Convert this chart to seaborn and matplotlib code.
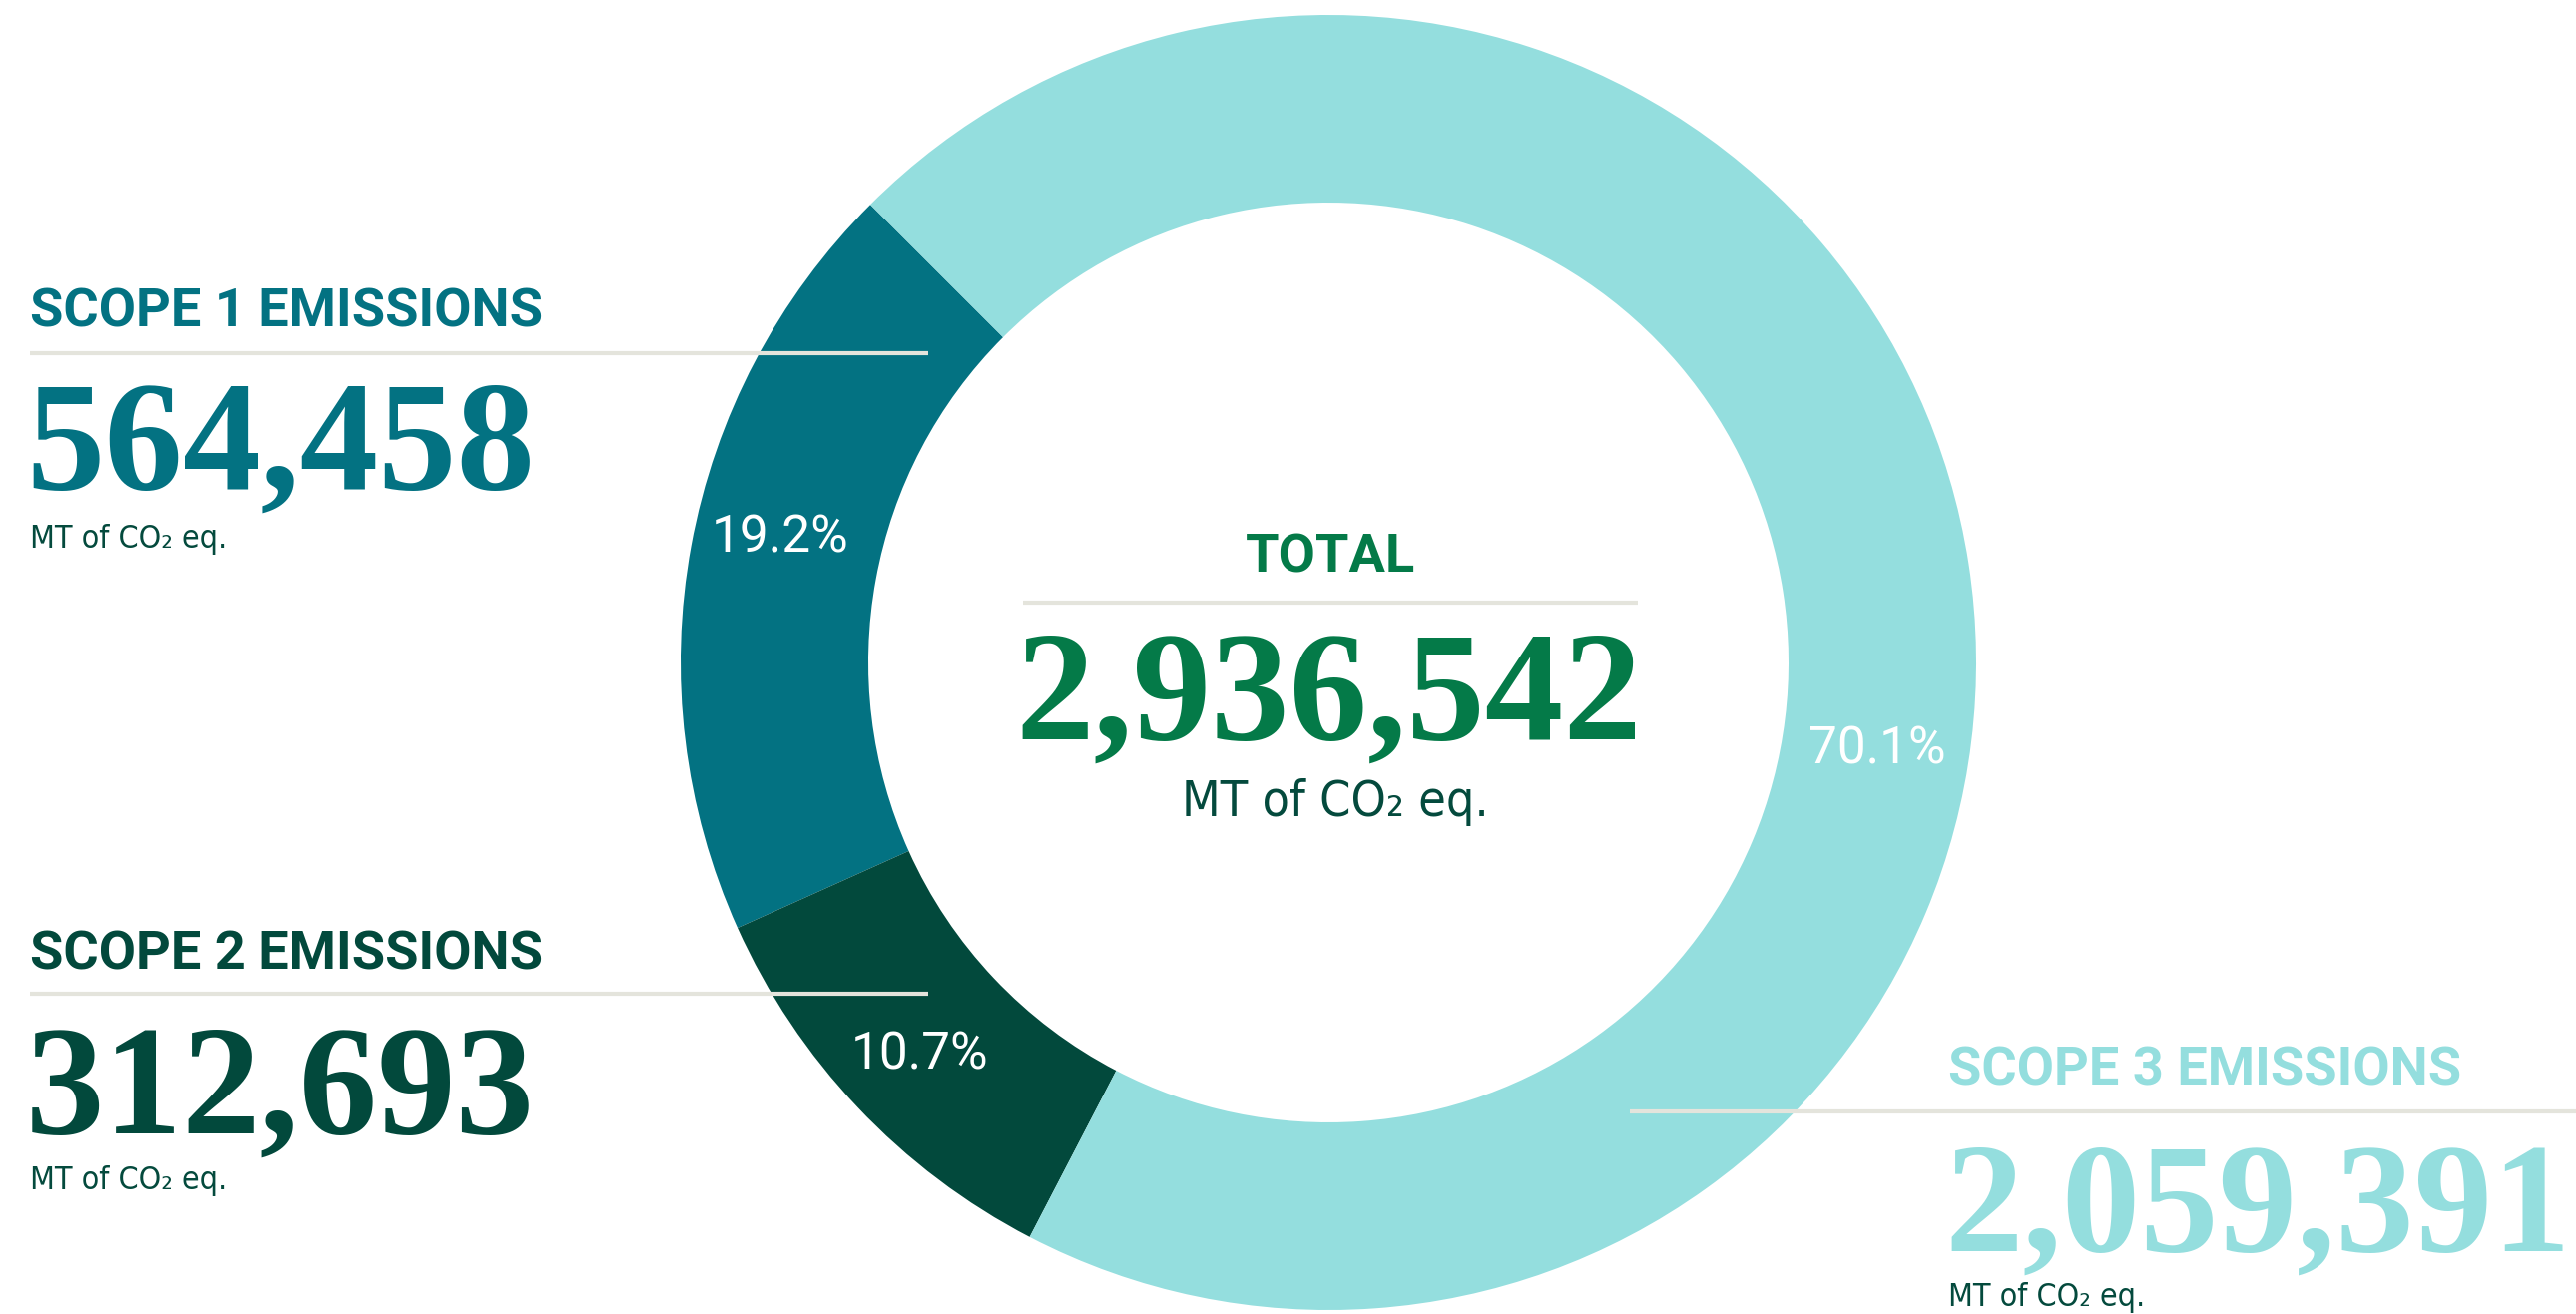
import matplotlib
matplotlib.use("Agg")
import matplotlib.pyplot as plt
import seaborn as sns

# ---- data ----
categories = ["SCOPE 1 EMISSIONS", "SCOPE 2 EMISSIONS", "SCOPE 3 EMISSIONS"]
values = [564458, 312693, 2059391]
pct_labels = ["19.2%", "10.7%", "70.1%"]
total_label = "TOTAL"
unit_label = "MT of CO\u2082 eq."

# ---- style ----
sns.set_theme(style="white")
plt.rcParams["font.family"] = ["Roboto", "DejaVu Sans"]

palette = sns.color_palette(["#037282", "#02493C", "#94DEDE"])
green = "#047A48"
unit_color = "#044A3D"
rule_color = "#E4E4DC"

W, H = 2581, 1317
fig = plt.figure(figsize=(W / 100, H / 100), dpi=100)
ax = fig.add_axes([0, 0, 1, 1])

def Y(y):
    return H - y

cx, cy, R = 1331, Y(664), 649
wedges, texts = ax.pie(
    values, colors=palette, startangle=135, counterclock=True,
    radius=R, center=(cx, cy),
    wedgeprops=dict(width=188, linewidth=0),
)
ax.set_xlim(0, W)
ax.set_ylim(0, H)
ax.set_aspect("equal")
ax.axis("off")

pct_pos = [(782, 540), (922, 1057), (1881, 752)]
for lab, (px, py) in zip(pct_labels, pct_pos):
    ax.text(px, Y(py), lab, color="white", fontsize=37, family="Roboto",
            ha="center", va="center")

serif = dict(family="Liberation Serif", fontweight="bold", fontsize=113)
head = dict(family="Roboto", fontweight="bold", fontsize=39)
unit = dict(family=["DejaVu Sans", "Roboto"], fontstretch="condensed",
            fontsize=23, color=unit_color)

blocks = [
    # x, head baseline, rule y, rule x0, rule x1, number baseline, unit baseline
    (30, 327, 354, 30, 930, 490, 549),
    (30, 971, 996, 30, 930, 1136, 1192),
    (1952, 1088, 1114, 1633, 2581, 1254, 1309),
]
for i, (x, hb, ry, rx0, rx1, nb, ub) in enumerate(blocks):
    col = palette[i]
    ax.text(x, Y(hb), categories[i], color=col, va="baseline", ha="left", **head)
    ax.plot([rx0, rx1], [Y(ry), Y(ry)], color=rule_color, lw=3, solid_capstyle="butt")
    ax.text(x - 4, Y(nb), f"{values[i]:,}", color=col, va="baseline", ha="left", **serif)
    ax.text(x, Y(ub), unit_label, va="baseline", ha="left", **unit)

# centre total
total = sum(values)
ax.text(1333, Y(574), total_label, color=green, va="baseline", ha="center", **head)
ax.plot([1025, 1641], [Y(604), Y(604)], color=rule_color, lw=3, solid_capstyle="butt")
ax.text(1331, Y(741), f"{total:,}", color=green, va="baseline", ha="center", **serif)
ax.text(1338, Y(818), unit_label, va="baseline", ha="center",
        family=["DejaVu Sans", "Roboto"], fontstretch="condensed",
        fontsize=36, color=unit_color)

fig.savefig("out.png", dpi=100, facecolor="white")
